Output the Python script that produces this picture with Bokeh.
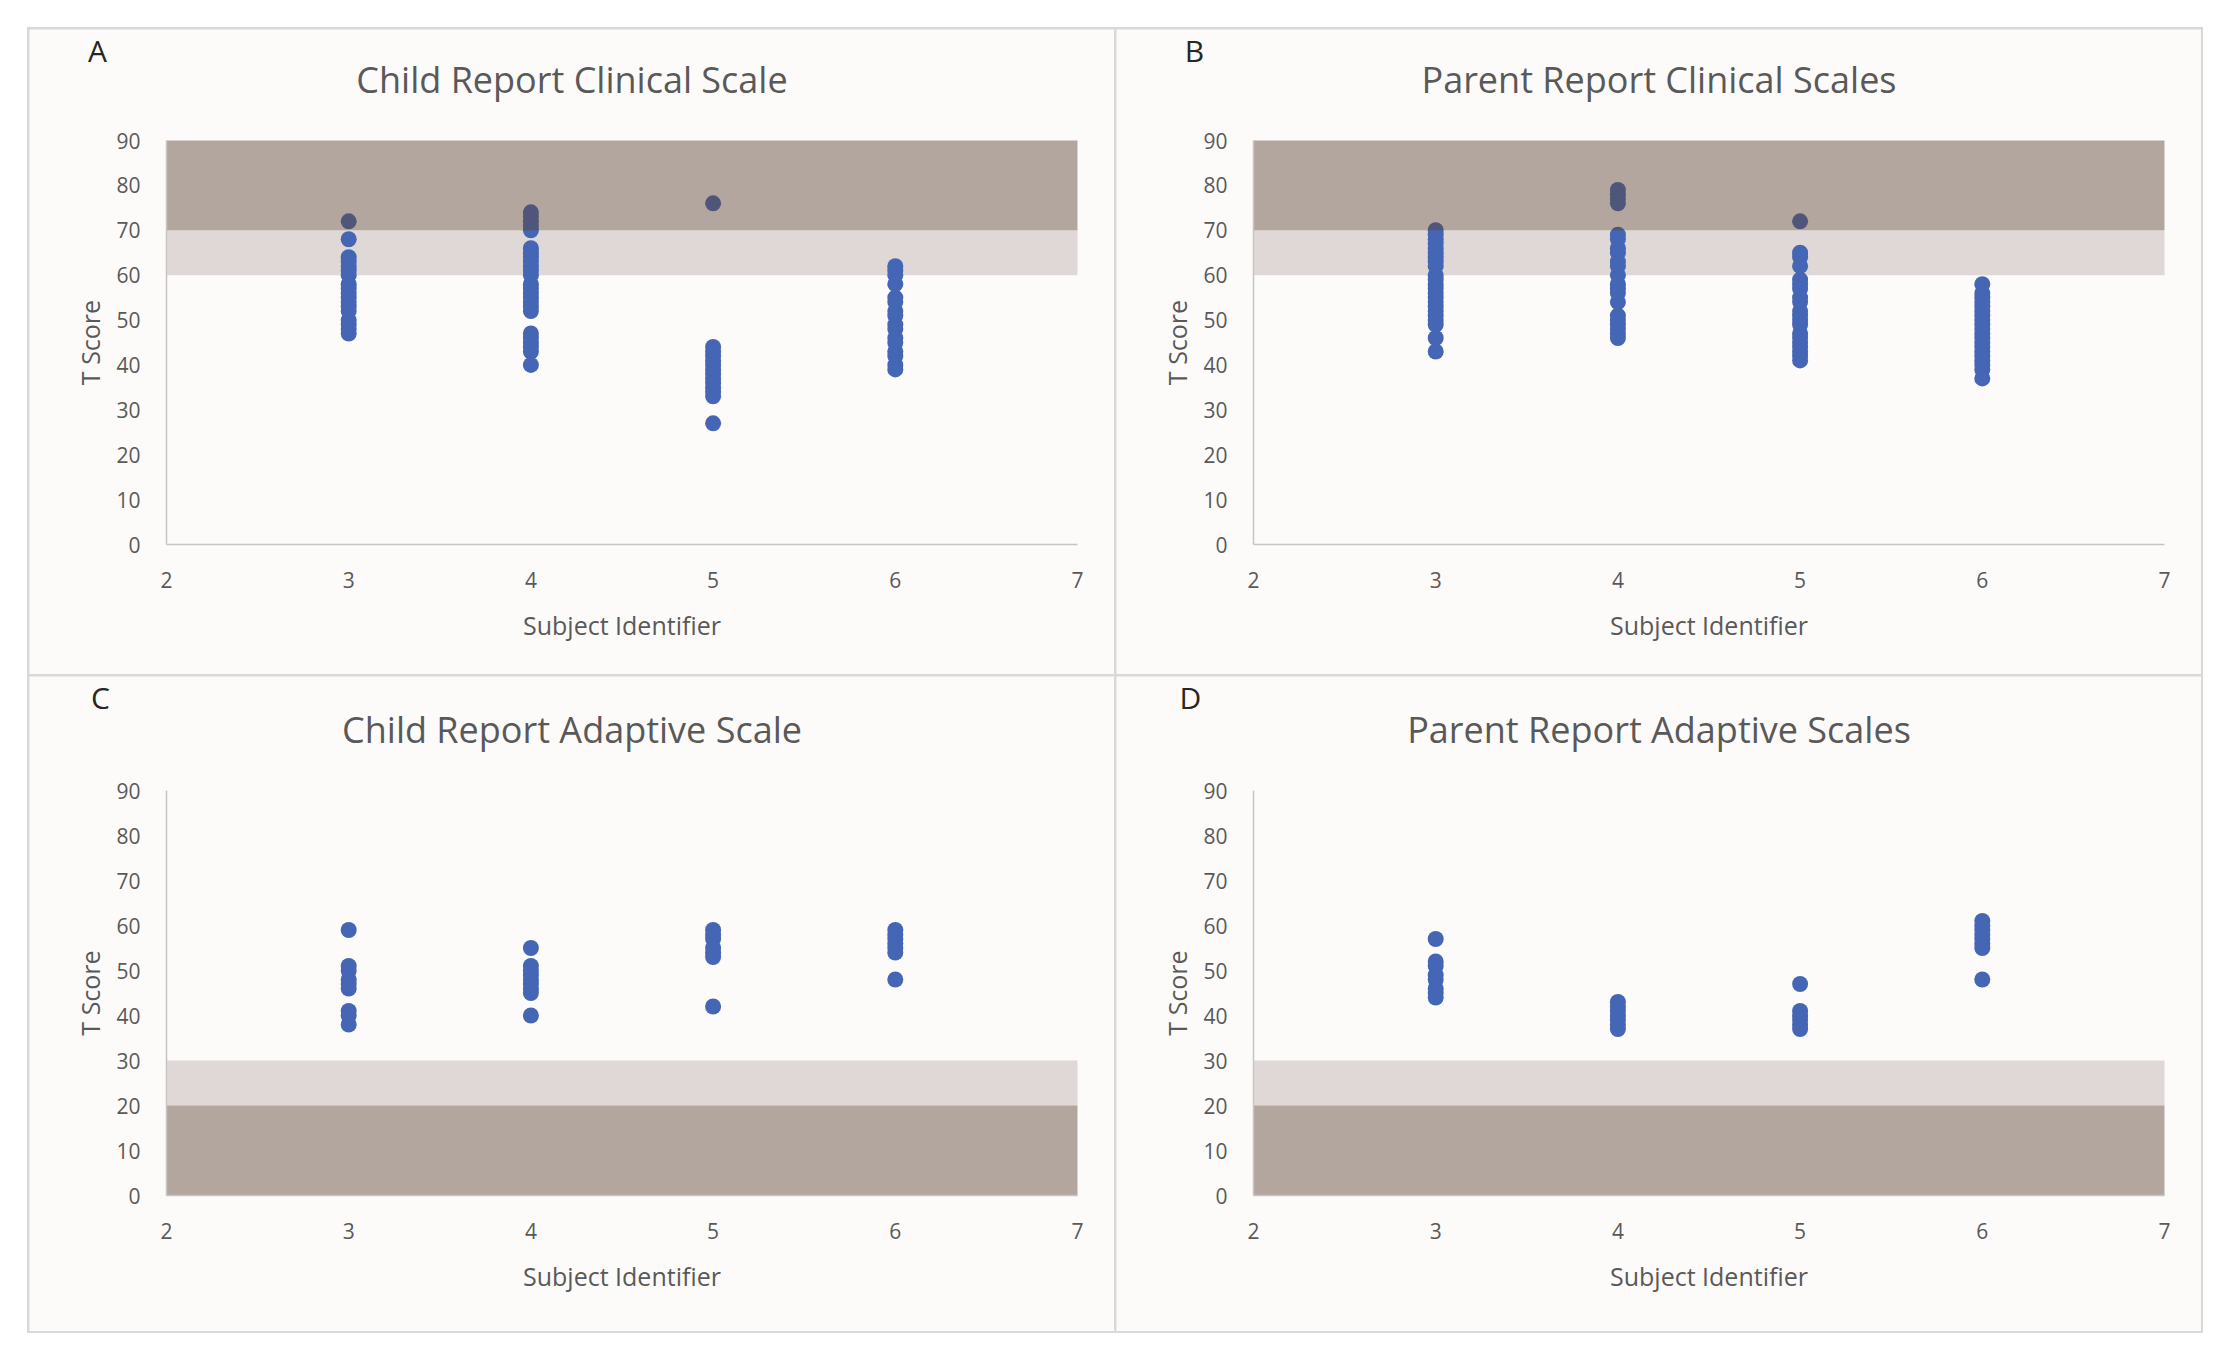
from bokeh.plotting import figure
from bokeh.layouts import column, row
from bokeh.models import Label, Range1d, FixedTicker, Spacer, ColumnDataSource
from bokeh.embed import file_html
from bokeh.resources import INLINE

# ---------------- data ----------------
x_ticks = [2, 3, 4, 5, 6, 7]
y_ticks = [0, 10, 20, 30, 40, 50, 60, 70, 80, 90]

# A: Child Report Clinical Scale
child_clin_3 = [72, 68, 64, 63, 62, 61, 60, 58, 57, 56, 55, 54, 53, 52, 50, 49, 48, 47]
child_clin_4 = [74, 73, 72, 71, 70, 66, 65, 64, 63, 62, 61, 60, 58, 57, 56, 55, 54, 53, 52, 47, 46, 45, 44, 43, 40]
child_clin_5 = [76, 44, 43, 42, 41, 40, 39, 38, 37, 36, 35, 34, 33, 27]
child_clin_6 = [62, 61, 60, 58, 55, 54, 52, 51, 49, 48, 46, 45, 43, 42, 40, 39]

# B: Parent Report Clinical Scales
parent_clin_3 = [70, 69, 68, 67, 66, 65, 64, 63, 62, 60, 59, 58, 57, 56, 55, 54, 53, 52, 51, 50, 49, 46, 43]
parent_clin_4 = [79, 78, 77, 76, 69, 68, 66, 65, 63, 62, 60, 58, 57, 56, 54, 51, 50, 49, 48, 47, 46]
parent_clin_5 = [72, 65, 64, 62, 59, 58, 57, 55, 54, 52, 51, 50, 49, 47, 46, 45, 44, 43, 42, 41]
parent_clin_6 = [58, 56, 55, 54, 53, 52, 51, 50, 49, 48, 47, 46, 45, 44, 43, 42, 41, 40, 39, 37]

# C: Child Report Adaptive Scale
child_adap_3 = [59, 51, 50, 48, 47, 46, 41, 40, 38]
child_adap_4 = [55, 51, 50, 49, 48, 47, 46, 45, 40]
child_adap_5 = [59, 58, 57, 55, 54, 53, 42]
child_adap_6 = [59, 58, 57, 56, 55, 54, 48]

# D: Parent Report Adaptive Scales
parent_adap_3 = [57, 52, 51, 49, 48, 46, 45, 44]
parent_adap_4 = [43, 42, 41, 40, 39, 38, 37]
parent_adap_5 = [47, 41, 40, 39, 38, 37]
parent_adap_6 = [61, 60, 59, 58, 57, 56, 55, 48]

# bands: (bottom, top)
clinical_light_band = (60, 70)
clinical_dark_band = (70, 90)
adaptive_light_band = (20, 30)
adaptive_dark_band = (0, 20)

panel_letters = ["A", "B", "C", "D"]
panel_titles = ["Child Report Clinical Scale", "Parent Report Clinical Scales",
                "Child Report Adaptive Scale", "Parent Report Adaptive Scales"]
panel_groups = [
    [child_clin_3, child_clin_4, child_clin_5, child_clin_6],
    [parent_clin_3, parent_clin_4, parent_clin_5, parent_clin_6],
    [child_adap_3, child_adap_4, child_adap_5, child_adap_6],
    [parent_adap_3, parent_adap_4, parent_adap_5, parent_adap_6],
]
panel_bands = [
    (clinical_light_band, clinical_dark_band),
    (clinical_light_band, clinical_dark_band),
    (adaptive_light_band, adaptive_dark_band),
    (adaptive_light_band, adaptive_dark_band),
]
subject_ids = [3, 4, 5, 6]

# ---------------- layout (pixels inside one panel) ----------------
PW = 1085
ROWS = [  # panel height, px of y=90, px of y=0, title y, letter y
    dict(ph=645, top=111, zero=515, title_y=50, letter_y=21),
    dict(ph=655, top=114, zero=519, title_y=53, letter_y=21),
]
PX_LEFT, PX_RIGHT = 137, 1048          # px of x=2 and x=7
LETTER_X = [68, 78, 71, 74]
X0, X1, Y0, Y1 = 2, 7, 0, 90

FONT = "Open Sans"
GREY = "#595959"
BG = "#fdfbfa"
BLUE = "#4466b4"


def make_panel(idx):
    r = ROWS[idx // 2]
    ph, top, zero = r["ph"], r["top"], r["zero"]
    sx = (X1 - X0) / (PX_RIGHT - PX_LEFT)
    sy = (Y1 - Y0) / (zero - top)
    x_start = X0 - PX_LEFT * sx
    x_end = X1 + (PW - PX_RIGHT) * sx
    y_start = Y0 - (ph - zero) * sy
    y_end = Y1 + top * sy

    def dx(px):
        return X0 + (px - PX_LEFT) * sx

    def dy(py):
        return Y0 + (zero - py) * sy

    p = figure(width=PW, height=ph, output_backend="svg", toolbar_location=None,
               x_range=Range1d(x_start, x_end), y_range=Range1d(y_start, y_end),
               min_border=0, min_border_left=0, min_border_right=0,
               min_border_top=0, min_border_bottom=0,
               background_fill_color=BG, border_fill_color=BG, outline_line_color=None)
    p.grid.visible = False

    light, dark = panel_bands[idx]
    p.quad(left=[X0], right=[X1], bottom=[light[0]], top=[light[1]],
           fill_color="#e0d8d6", line_color=None)

    xs, ys = [], []
    for sid, vals in zip(subject_ids, panel_groups[idx]):
        xs += [sid] * len(vals)
        ys += vals
    src = ColumnDataSource(dict(x=xs, y=ys))
    p.scatter("x", "y", source=src, size=16, fill_color=BLUE, line_color=None)

    # dark band drawn over the points, semi-transparent as in the original
    p.quad(left=[X0], right=[X1], bottom=[dark[0]], top=[dark[1]],
           fill_color="#5e4437", fill_alpha=0.465, line_color=None)

    for ax in (p.xaxis[0], p.yaxis[0]):
        ax.major_tick_line_color = None
        ax.minor_tick_line_color = None
        ax.axis_line_color = "#c8c4c2"
        ax.axis_line_width = 1.5
        ax.major_label_text_font = FONT
        ax.major_label_text_font_size = "21px"
        ax.major_label_text_color = GREY
        ax.axis_label_text_font = FONT
        ax.axis_label_text_font_size = "25px"
        ax.axis_label_text_font_style = "normal"
        ax.axis_label_text_color = GREY

    p.xaxis.ticker = FixedTicker(ticks=x_ticks)
    p.yaxis.ticker = FixedTicker(ticks=y_ticks)
    p.xaxis.bounds = (X0, X1)
    p.yaxis.bounds = (Y0, Y1)
    p.yaxis.fixed_location = X0
    p.xaxis.fixed_location = Y0
    p.xaxis.axis_label = "Subject Identifier"
    p.yaxis.axis_label = "T Score"
    p.xaxis.major_label_standoff = 21
    p.yaxis.major_label_standoff = 20
    p.xaxis.axis_label_standoff = 17
    p.yaxis.axis_label_standoff = 6

    p.add_layout(Label(x=dx(PW / 2), y=dy(r["title_y"]), text=panel_titles[idx],
                       text_align="center", text_baseline="middle",
                       text_font=FONT, text_font_size="36px", text_color=GREY))
    p.add_layout(Label(x=dx(LETTER_X[idx]), y=dy(r["letter_y"]), text=panel_letters[idx],
                       text_align="center", text_baseline="middle",
                       text_font=FONT, text_font_size="30px", text_color="#262626"))
    return p


figs = [make_panel(i) for i in range(4)]

grid = column(row(figs[0], figs[1], spacing=2),
              row(figs[2], figs[3], spacing=2),
              spacing=2,
              styles={"background-color": "#d9d9d9", "padding": "2px"})

page = column(Spacer(height=27), row(Spacer(width=27), grid))

open("out.html", "w").write(file_html(page, INLINE))
